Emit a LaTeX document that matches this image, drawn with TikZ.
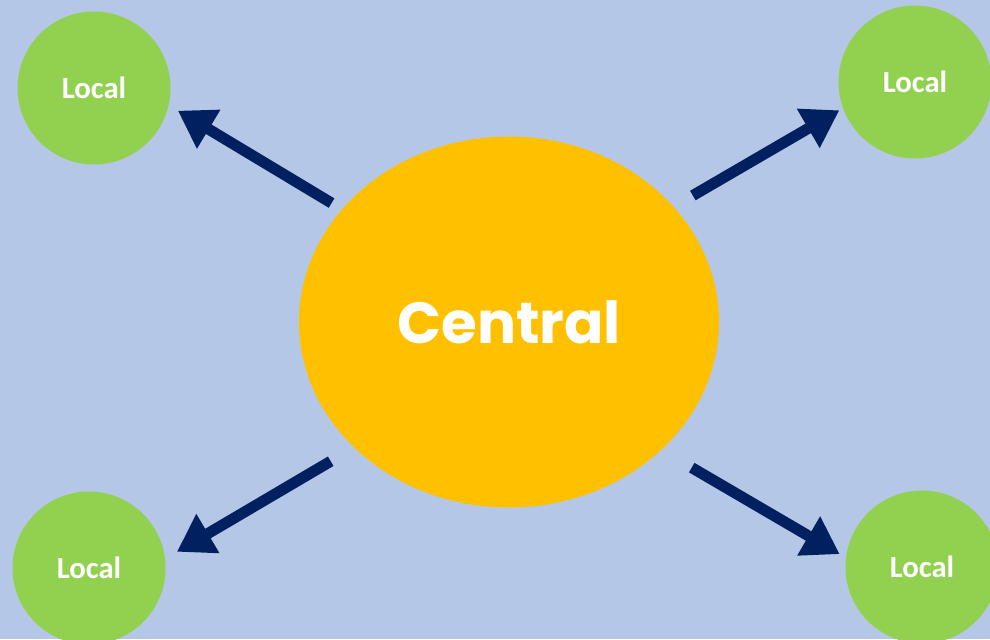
\documentclass[tikz,border=0pt]{standalone}
\usepackage{fontspec}
\setmainfont{Carlito}
\newfontfamily\roundfont{Poppins}
\usepackage{tikz}
\usetikzlibrary{arrows.meta,positioning,shapes.geometric}
\usepackage{xcolor}
\definecolor{skybg}{HTML}{B4C7E7}
\definecolor{hubfill}{HTML}{FFC000}
\definecolor{leaffill}{HTML}{92D050}
\definecolor{arrowblue}{HTML}{002060}

\begin{document}
\begin{tikzpicture}[
    x=0.02cm, y=-0.02cm,
    hub/.style={ellipse, fill=hubfill, minimum width=8.4cm, minimum height=7.42cm, inner sep=0pt, text=white, font=\roundfont\bfseries\fontsize{33}{40}\selectfont},
    leaf/.style={circle, fill=leaffill, minimum size=3.06cm, inner sep=0pt, text=white, font=\bfseries\fontsize{17.5}{20}\selectfont},
    spoke/.style={draw=arrowblue, line width=0.22cm, -{Triangle[length=0.72cm, width=0.86cm]}}
]
    \fill[skybg] (0,0) rectangle (990,639);
    \useasboundingbox (0,0) rectangle (990,639);

    \node[hub] (central) at (509,322) {Central};
    \node[leaf] (tl) at (94,88) {Local};
    \node[leaf] (tr) at (915,82) {Local};
    \node[leaf] (bl) at (89,568) {Local};
    \node[leaf] (br) at (922,567) {Local};

    \draw[spoke, shorten <=0.24cm, shorten >=0.21cm] (central.146) -- (tl.-13);
    \draw[spoke, shorten <=0.44cm, shorten >=0.08cm] (central.35) -- (tr.-160);
    \draw[spoke, shorten <=0.54cm, shorten >=0.27cm] (central.-141) -- (bl.7);
    \draw[spoke, shorten <=0.7cm, shorten >=0.14cm] (central.-40) -- (br.173);
\end{tikzpicture}
\end{document}
